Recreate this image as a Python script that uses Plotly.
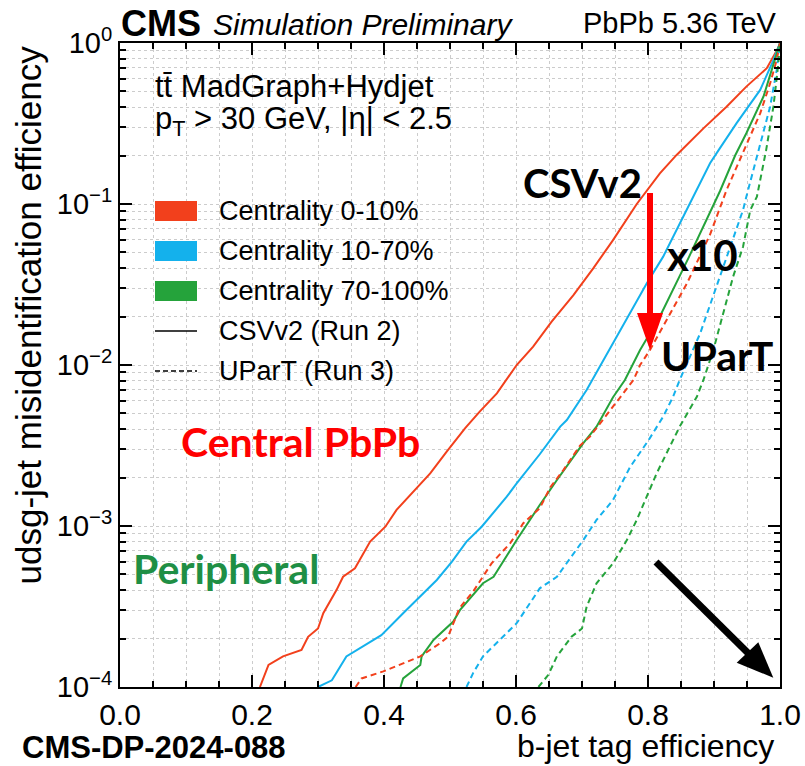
import plotly.graph_objects as go

# ---------------- data ----------------
# CSVv2 (Run 2), solid lines
csv_c0_10_eff = [0.212, 0.225, 0.247, 0.275, 0.285, 0.300, 0.308, 0.328, 0.338, 0.356, 0.379, 0.402,
                 0.419, 0.449, 0.470, 0.495, 0.523, 0.545, 0.571, 0.601, 0.626, 0.654, 0.687, 0.717,
                 0.747, 0.783, 0.818, 0.843, 0.884, 0.919, 0.949, 0.980, 0.997, 1.0]
csv_c0_10_mis = [1.0e-4, 1.37e-4, 1.55e-4, 1.70e-4, 2.05e-4, 2.31e-4, 2.87e-4, 4.0e-4, 4.84e-4, 5.46e-4,
                 8.0e-4, 9.9e-4, 1.26e-3, 1.71e-3, 2.12e-3, 2.90e-3, 4.05e-3, 5.13e-3, 6.67e-3, 1.0e-2,
                 1.30e-2, 1.86e-2, 2.72e-2, 3.98e-2, 5.97e-2, 0.100, 0.155, 0.201, 0.295, 0.402, 0.536,
                 0.697, 0.927, 1.0]

csv_c10_70_eff = [0.300, 0.321, 0.343, 0.396, 0.429, 0.480, 0.503, 0.525, 0.548, 0.586, 0.601, 0.636,
                  0.667, 0.677, 0.707, 0.747, 0.788, 0.798, 0.823, 0.859, 0.879, 0.894, 0.907, 0.934,
                  0.970, 0.990, 1.0]
csv_c10_70_mis = [1.0e-4, 1.10e-4, 1.55e-4, 2.10e-4, 2.87e-4, 4.62e-4, 6.01e-4, 8.0e-4, 9.9e-4, 1.52e-3,
                  1.84e-3, 2.79e-3, 4.14e-3, 4.55e-3, 7.0e-3, 1.36e-2, 2.72e-2, 3.21e-2, 4.71e-2, 9.3e-2,
                  0.135, 0.179, 0.216, 0.317, 0.511, 0.783, 1.0]

csv_c70_100_eff = [0.425, 0.429, 0.455, 0.457, 0.475, 0.495, 0.505, 0.515, 0.550, 0.566, 0.601, 0.636,
                   0.662, 0.702, 0.722, 0.747, 0.765, 0.788, 0.818, 0.862, 0.889, 0.909, 0.932, 0.949,
                   0.975, 0.992, 1.0]
csv_c70_100_mis = [1.0e-4, 1.13e-4, 1.37e-4, 1.55e-4, 1.96e-4, 2.34e-4, 2.55e-4, 3.0e-4, 4.41e-4, 4.84e-4,
                   8.18e-4, 1.35e-3, 1.93e-3, 3.27e-3, 4.14e-3, 6.31e-3, 8.07e-3, 1.24e-2, 2.0e-2, 4.68e-2,
                   7.94e-2, 0.120, 0.200, 0.275, 0.465, 0.783, 1.0]

# UParT (Run 3), dashed lines
upt_c0_10_eff = [0.357, 0.366, 0.399, 0.455, 0.485, 0.497, 0.513, 0.518, 0.535, 0.563, 0.591, 0.611,
                 0.636, 0.652, 0.672, 0.697, 0.712, 0.747, 0.778, 0.788, 0.803, 0.859, 0.894, 0.919,
                 0.946, 0.970, 0.985, 0.995, 1.0]
upt_c0_10_mis = [1.0e-4, 1.13e-4, 1.25e-4, 1.55e-4, 1.87e-4, 2.05e-4, 3.0e-4, 3.23e-4, 3.91e-4, 5.86e-4,
                 7.80e-4, 1.04e-3, 1.29e-3, 1.74e-3, 2.23e-3, 3.16e-3, 3.59e-3, 5.5e-3, 8.07e-3, 1.0e-2,
                 1.24e-2, 3.21e-2, 6.46e-2, 0.122, 0.221, 0.366, 0.561, 0.783, 1.0]

upt_c10_70_eff = [0.525, 0.535, 0.550, 0.601, 0.636, 0.662, 0.702, 0.722, 0.747, 0.773, 0.801, 0.823,
                  0.838, 0.848, 0.879, 0.909, 0.924, 0.944, 0.949, 0.968, 0.985, 0.995, 1.0]
upt_c10_70_mis = [1.0e-4, 1.22e-4, 1.55e-4, 2.49e-4, 4.10e-4, 4.84e-4, 8.18e-4, 1.09e-3, 1.45e-3, 2.33e-3,
                  3.42e-3, 4.78e-3, 6.35e-3, 8.07e-3, 1.57e-2, 3.54e-2, 5.43e-2, 9.18e-2, 0.111, 0.216,
                  0.402, 0.679, 1.0]

upt_c70_100_eff = [0.634, 0.649, 0.662, 0.684, 0.700, 0.707, 0.722, 0.747, 0.768, 0.783, 0.798, 0.813,
                   0.848, 0.874, 0.884, 0.899, 0.929, 0.944, 0.955, 0.965, 0.979, 0.990, 0.997, 1.0]
upt_c70_100_mis = [1.0e-4, 1.19e-4, 1.55e-4, 2.05e-4, 2.31e-4, 3.15e-4, 4.41e-4, 5.86e-4, 8.18e-4, 1.09e-3,
                   1.52e-3, 2.12e-3, 4.14e-3, 6.35e-3, 8.07e-3, 1.24e-2, 3.54e-2, 5.43e-2, 9.18e-2, 0.111,
                   0.216, 0.402, 0.713, 1.0]

centrality_labels = ["Centrality 0-10%", "Centrality 10-70%", "Centrality 70-100%"]
tagger_labels = ["CSVv2 (Run 2)", "UParT (Run 3)"]
x_tick_vals = [0.0, 0.2, 0.4, 0.6, 0.8, 1.0]
y_tick_vals = [1e-4, 1e-3, 1e-2, 1e-1, 1]
y_tick_text = ["10<sup>\u22124</sup>", "10<sup>\u22123</sup>", "10<sup>\u22122</sup>",
               "10<sup>\u22121</sup>", "10<sup>0</sup>"]

# ---------------- styling ----------------
RED = "#f2401c"
BLUE = "#14b1ec"
GREEN = "#25a33b"
colors = [RED, BLUE, GREEN]
FONT = "Liberation Sans, Arial, sans-serif"
BOLDFONT = "Lato, Open Sans, sans-serif"

fig = go.Figure()

solid_sets = [(csv_c0_10_eff, csv_c0_10_mis), (csv_c10_70_eff, csv_c10_70_mis),
              (csv_c70_100_eff, csv_c70_100_mis)]
dash_sets = [(upt_c0_10_eff, upt_c0_10_mis), (upt_c10_70_eff, upt_c10_70_mis),
             (upt_c70_100_eff, upt_c70_100_mis)]

for (x, y), c, lab in zip(solid_sets, colors, centrality_labels):
    fig.add_trace(go.Scatter(x=x, y=y, mode="lines", line=dict(color=c, width=2),
                             name=lab + " CSVv2", showlegend=False))
for (x, y), c, lab in zip(dash_sets, colors, centrality_labels):
    fig.add_trace(go.Scatter(x=x, y=y, mode="lines", line=dict(color=c, width=2, dash="6px,4px"),
                             name=lab + " UParT", showlegend=False))

grid_col = "#cccccc"
fig.update_xaxes(range=[0, 1], tickvals=x_tick_vals, tickformat=".1f",
                 ticks="inside", ticklen=12, tickwidth=1.5, tickcolor="black",
                 showline=True, linecolor="black", linewidth=2, mirror="allticks",
                 showgrid=True, gridcolor=grid_col, griddash="dot", gridwidth=1,
                 zeroline=False,
                 minor=dict(dtick=0.05, ticks="inside", ticklen=6, tickcolor="black",
                            showgrid=True, gridcolor=grid_col, griddash="dot", gridwidth=1),
                 tickfont=dict(family=FONT, size=30, color="black"))
fig.update_yaxes(type="log", range=[-4, 0], tickvals=y_tick_vals, ticktext=y_tick_text,
                 ticks="inside", ticklen=12, tickwidth=1.5, tickcolor="black",
                 showline=True, linecolor="black", linewidth=2, mirror="allticks",
                 showgrid=True, gridcolor=grid_col, griddash="dot", gridwidth=1,
                 zeroline=False,
                 minor=dict(dtick="D1", ticks="inside", ticklen=6, tickcolor="black",
                            showgrid=True, gridcolor=grid_col, griddash="dot", gridwidth=1),
                 tickfont=dict(family=FONT, size=29, color="black"))

# body margin is removed below, so the figure fills the 805x766 window exactly
W, H = 805, 766
PL, PR, PT, PB = 120, 780, 43, 687
L, R, T, B = PL, W - PR, PT, H - PB
PW, PH = PR - PL, PB - PT


def px(xp):
    return (xp - PL) / PW


def py(yp):
    return (PB - yp) / PH


ann = []
shapes = []


def text(s, x, y, size, color="black", family=FONT, xanchor="center", yanchor="middle", angle=0):
    ann.append(dict(text=s, x=px(x), y=py(y), xref="paper", yref="paper", showarrow=False,
                    xanchor=xanchor, yanchor=yanchor, textangle=angle,
                    font=dict(family=family, size=size, color=color)))


# header
text("<b>CMS</b>", 119, 23, 36, xanchor="left")
text("<i>Simulation Preliminary</i>", 211, 24, 30, xanchor="left")
text("PbPb 5.36 TeV", 779, 23, 29, xanchor="right")

# process text
text("tt\u0304 MadGraph+Hydjet", 153, 86, 31, xanchor="left")
text("p<sub>T</sub> &gt; 30 GeV, |\u03b7| &lt; 2.5", 153, 121, 31, xanchor="left")

# legend (manual)
box_y = [211, 251, 291]
for c, lab, yy in zip(colors, centrality_labels, box_y):
    shapes.append(dict(type="rect", xref="paper", yref="paper", x0=px(155), x1=px(197),
                       y0=py(yy - 10), y1=py(yy + 10), fillcolor=c, line=dict(width=0)))
    text(lab, 217, yy, 27, xanchor="left")
for dsh, lab, yy in zip(["solid", "5px,3px"], tagger_labels, [331, 371]):
    shapes.append(dict(type="line", xref="paper", yref="paper", x0=px(155), x1=px(197),
                       y0=py(yy), y1=py(yy), line=dict(color="black", width=1.5, dash=dsh)))
    text(lab, 217, yy, 27, xanchor="left")

# bold callouts
text("<b>CSVv2</b>", 582, 183, 40, family=BOLDFONT)
text("<b>x10</b>", 702, 255, 42, family=BOLDFONT)
text("<b>UParT</b>", 717, 355, 41, family=BOLDFONT)
text("<b>Central PbPb</b>", 300, 441, 41, color="#ff0000", family=BOLDFONT)
text("<b>Peripheral</b>", 226, 568, 41, color="#1f8f45", family=BOLDFONT)

# red arrow
shapes.append(dict(type="line", xref="paper", yref="paper", x0=px(650), x1=px(650),
                   y0=py(193), y1=py(318), line=dict(color="#ff0000", width=6)))
shapes.append(dict(type="path", xref="paper", yref="paper",
                   path=f"M {px(637)} {py(313)} L {px(663)} {py(313)} L {px(650)} {py(350)} Z",
                   fillcolor="#ff0000", line=dict(width=0)))
# black arrow
shapes.append(dict(type="line", xref="paper", yref="paper", x0=px(656), x1=px(748),
                   y0=py(562), y1=py(653), line=dict(color="black", width=7)))
shapes.append(dict(type="path", xref="paper", yref="paper",
                   path=f"M {px(736.7)} {py(662.7)} L {px(758.3)} {py(642.3)} L {px(773.3)} {py(677.7)} Z",
                   fillcolor="black", line=dict(width=0)))

# axis titles & footer
text("b-jet tag efficiency", 776, 746, 32, xanchor="right")
ann.append(dict(text="udsg-jet misidentification efficiency", x=px(28), y=py(44), xref="paper",
                yref="paper", showarrow=False, xanchor="center", yanchor="top", textangle=-90,
                font=dict(family=FONT, size=35, color="black")))
text("<b>CMS-DP-2024-088</b>", 20, 747, 31, xanchor="left")

fig.update_layout(width=W, height=H, margin=dict(l=L, r=R, t=T, b=B, autoexpand=False),
                  plot_bgcolor="white", paper_bgcolor="white", showlegend=False,
                  annotations=ann, shapes=shapes)

fig.write_html("out.html", config={"displayModeBar": False},
               post_script="document.body.style.margin='0px';document.body.style.overflow='hidden';")
